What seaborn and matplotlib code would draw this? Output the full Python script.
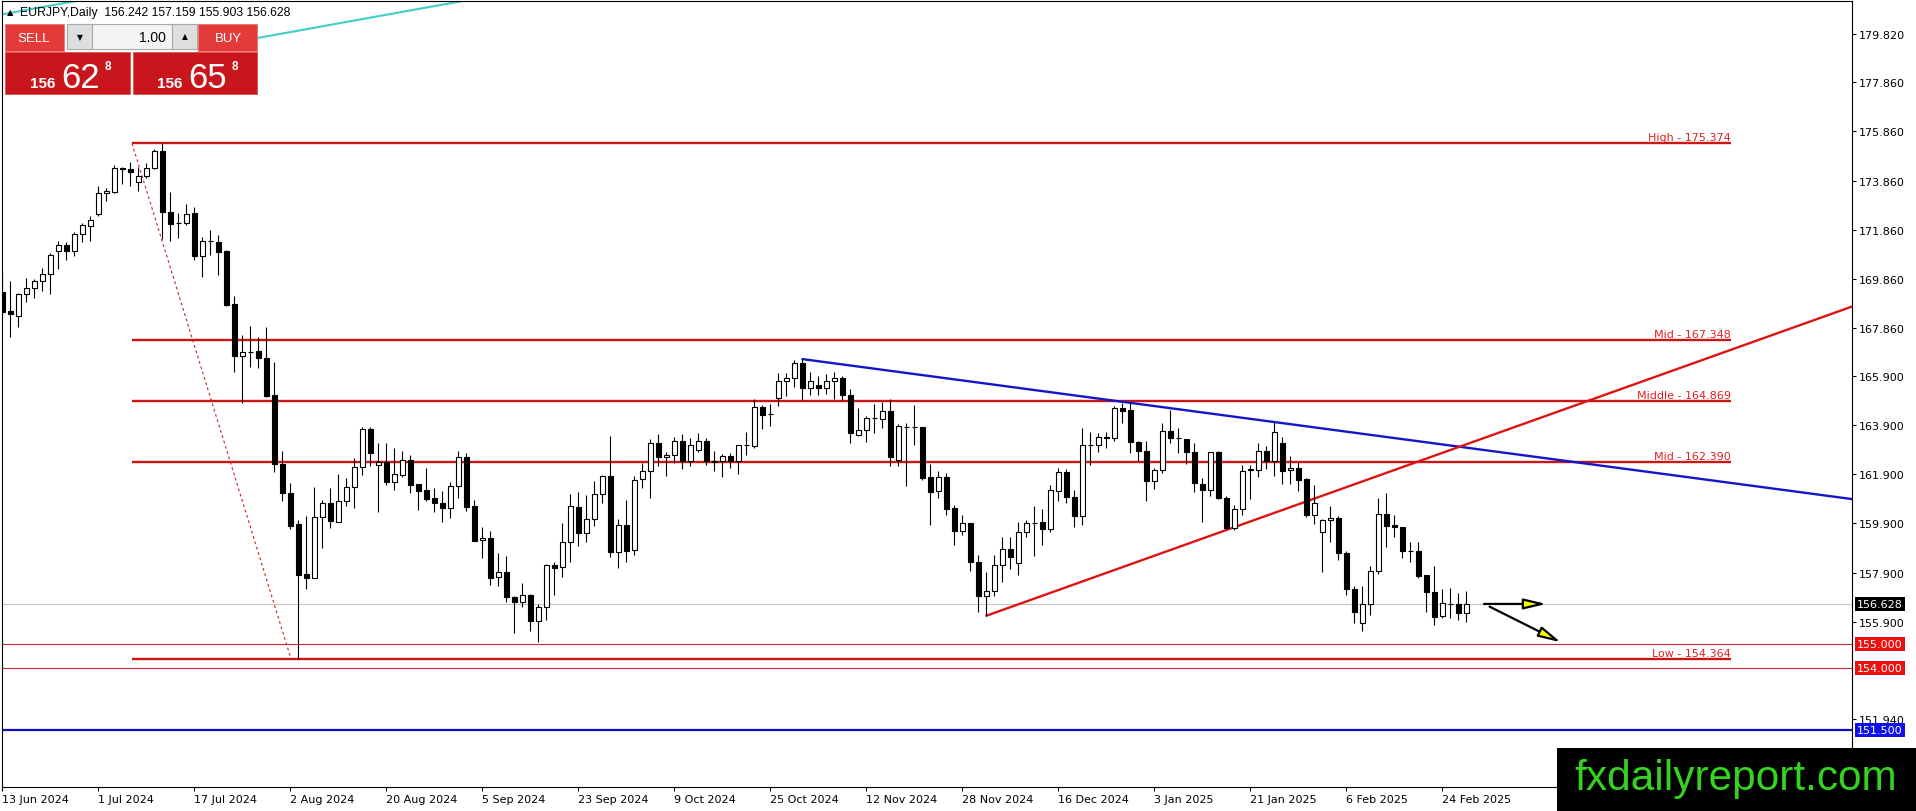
import matplotlib
matplotlib.use("Agg")
import numpy as np
import matplotlib.pyplot as plt
import matplotlib.transforms as mtransforms
from matplotlib.patches import Rectangle
import seaborn as sns

# EURJPY daily candles, 13 Jun 2024 .. 27 Feb 2025
opens = [169.34, 168.55, 168.36, 169.23, 169.47, 169.76, 170.06, 170.98, 171.25, 171.00,
         171.67, 172.02, 172.50, 173.34, 173.41, 174.36, 174.33, 173.79, 174.03, 174.36,
         175.05, 172.57, 172.13, 172.13, 172.52, 170.80, 171.40, 171.34, 170.99, 168.83,
         166.73, 166.88, 166.91, 166.62, 165.13, 162.32, 161.12, 159.86, 157.83, 157.69,
         160.15, 160.72, 159.97, 160.83, 161.37, 162.18, 163.74, 162.28, 162.39, 161.60,
         161.88, 162.50, 161.49, 161.25, 160.92, 160.73, 160.54, 161.41, 162.59, 160.60,
         159.22, 159.31, 157.70, 157.91, 156.89, 156.69, 156.99, 155.91, 156.48, 158.21,
         158.11, 159.13, 160.55, 159.50, 160.08, 161.10, 161.82, 158.72, 159.85, 158.83,
         161.71, 162.02, 163.16, 162.59, 162.69, 163.27, 162.45, 162.89, 163.27, 162.45,
         162.45, 162.63, 162.43, 163.08, 163.07, 164.63, 164.36, 165.01, 165.69, 165.82,
         166.42, 165.40, 165.54, 165.40, 165.69, 165.81, 165.14, 163.51, 163.72, 164.18,
         164.15, 164.49, 162.50, 163.84, 163.81, 163.81, 161.78, 161.21, 161.78, 160.51,
         159.60, 159.90, 158.31, 156.96, 157.14, 158.22, 158.86, 158.27, 159.54, 159.91,
         159.94, 159.67, 161.23, 161.98, 160.96, 160.19, 163.09, 163.09, 163.40, 163.36,
         164.60, 164.52, 163.20, 162.84, 161.64, 162.09, 163.65, 163.37, 163.34, 162.79,
         161.50, 161.27, 162.79, 160.92, 159.70, 160.49, 162.09, 162.09, 162.86, 162.45,
         163.17, 162.07, 162.16, 161.71, 160.24, 159.54, 160.04, 160.12, 158.68, 157.23,
         155.83, 156.60, 157.95, 160.28, 159.83, 159.74, 158.77, 158.76, 157.80, 157.09,
         156.12, 156.62, 156.60, 156.242]
highs = [170.10, 169.78, 169.28, 169.89, 169.85, 170.29, 170.91, 171.39, 171.34, 171.78,
         172.13, 172.40, 173.63, 173.54, 174.50, 174.43, 174.60, 174.40, 174.57, 175.14,
         175.374, 173.38, 172.54, 172.91, 172.77, 171.55, 171.85, 171.64, 171.03, 169.15,
         167.57, 167.95, 167.48, 167.88, 166.49, 162.86, 161.55, 160.04, 160.19, 161.37,
         160.85, 161.33, 161.91, 161.75, 162.55, 163.84, 163.84, 163.16, 163.16, 162.99,
         162.86, 162.69, 161.50, 162.14, 161.33, 161.22, 161.60, 162.84, 162.75, 160.85,
         159.74, 159.58, 158.70, 158.56, 156.96, 157.46, 157.03, 156.62, 158.25, 158.31,
         159.92, 161.10, 161.19, 161.06, 161.64, 161.89, 163.47, 160.08, 160.85, 161.84,
         162.36, 163.34, 163.54, 162.79, 163.40, 163.54, 163.36, 163.57, 163.36, 162.84,
         162.73, 162.77, 163.10, 163.61, 164.97, 164.72, 164.76, 166.01, 166.02, 166.55,
         166.59, 166.05, 165.89, 165.98, 166.05, 165.89, 165.37, 164.60, 164.29, 164.76,
         164.83, 164.97, 163.95, 163.99, 164.72, 163.82, 162.32, 162.05, 161.95, 160.66,
         160.26, 159.92, 158.61, 157.91, 158.61, 159.33, 159.33, 159.94, 160.04, 160.62,
         160.49, 161.48, 162.14, 162.11, 161.26, 163.77, 163.61, 163.57, 163.64, 164.69,
         164.80, 164.86, 163.27, 163.24, 162.16, 163.97, 164.52, 163.77, 163.35, 163.16,
         161.75, 162.80, 162.84, 161.03, 160.65, 162.28, 162.28, 163.16, 163.07, 164.04,
         163.43, 162.66, 162.39, 161.73, 161.46, 160.08, 160.62, 160.21, 158.79, 157.36,
         157.36, 158.15, 160.92, 161.12, 160.24, 159.75, 159.13, 159.13, 157.81, 158.15,
         157.23, 157.26, 157.05, 157.159]
lows = [168.22, 167.48, 167.91, 168.90, 169.08, 169.38, 169.24, 170.26, 170.63, 170.80,
        171.34, 171.41, 172.43, 173.04, 173.35, 173.72, 173.65, 173.45, 173.95, 174.33,
        171.48, 171.41, 171.51, 172.05, 170.64, 169.92, 170.83, 170.01, 168.77, 166.08,
        164.80, 166.26, 166.21, 165.03, 161.98, 160.82, 159.67, 154.364, 157.23, 157.66,
        158.91, 159.73, 159.96, 160.60, 160.53, 161.88, 162.25, 160.38, 161.46, 161.27,
        161.80, 161.14, 160.46, 160.83, 160.38, 159.97, 160.12, 160.93, 160.42, 159.18,
        158.50, 157.41, 157.36, 156.71, 155.42, 156.48, 155.53, 155.08, 155.98, 157.00,
        157.73, 158.34, 158.99, 159.16, 159.81, 160.73, 158.52, 158.07, 158.31, 158.61,
        161.33, 160.93, 162.25, 161.84, 162.36, 162.12, 162.25, 162.82, 162.29, 162.05,
        161.80, 162.14, 161.91, 162.70, 162.97, 163.74, 163.88, 164.67, 165.10, 165.44,
        164.94, 165.13, 165.13, 165.17, 164.97, 164.94, 163.16, 163.45, 163.20, 163.57,
        163.77, 162.25, 162.22, 161.44, 163.11, 161.68, 159.85, 160.93, 160.26, 159.03,
        159.43, 157.97, 156.31, 156.14, 156.96, 157.50, 158.04, 157.80, 159.33, 158.59,
        159.02, 159.56, 160.80, 160.73, 159.74, 159.84, 162.29, 162.79, 162.96, 163.27,
        163.97, 162.75, 162.45, 160.83, 161.30, 161.94, 163.16, 162.77, 162.32, 161.17,
        159.97, 161.03, 160.91, 159.69, 159.63, 160.24, 160.89, 161.78, 162.12, 161.84,
        161.50, 161.50, 161.23, 160.15, 159.88, 157.91, 159.13, 158.42, 156.98, 155.83,
        155.53, 156.18, 157.84, 158.95, 159.36, 158.48, 158.31, 157.66, 156.28, 155.76,
        156.03, 156.03, 155.98, 155.903]
closes = [168.52, 168.41, 169.24, 169.47, 169.76, 170.06, 170.83, 171.25, 171.00, 171.67,
          172.05, 172.27, 173.34, 173.43, 174.36, 174.32, 174.19, 174.03, 174.36, 175.05,
          172.57, 172.09, 172.12, 172.51, 170.80, 171.41, 171.39, 170.96, 168.79, 166.73,
          166.89, 166.87, 166.62, 165.10, 162.32, 161.12, 159.81, 157.80, 157.69, 160.15,
          160.72, 160.01, 160.83, 161.37, 162.18, 163.74, 162.75, 162.41, 161.60, 161.91,
          162.50, 161.48, 161.23, 160.89, 160.72, 160.54, 161.41, 162.59, 160.58, 159.20,
          159.31, 157.66, 157.91, 156.89, 156.69, 156.99, 155.91, 156.48, 158.21, 158.10,
          159.13, 160.60, 159.50, 160.08, 161.10, 161.82, 158.72, 159.85, 158.79, 161.68,
          162.02, 163.16, 162.59, 162.69, 163.27, 162.43, 163.09, 163.27, 162.43, 162.42,
          162.63, 162.45, 163.09, 163.10, 164.63, 164.33, 164.35, 165.69, 165.82, 166.42,
          165.40, 165.71, 165.40, 165.69, 165.81, 165.14, 163.57, 163.72, 164.19, 164.19,
          164.49, 162.59, 163.85, 163.83, 163.82, 161.75, 161.19, 161.78, 160.49, 159.60,
          159.90, 158.34, 156.96, 157.14, 158.22, 158.86, 158.52, 159.54, 159.90, 159.92,
          159.67, 161.27, 161.98, 160.96, 160.19, 163.09, 163.10, 163.40, 163.36, 164.59,
          164.49, 163.20, 162.84, 161.64, 162.09, 163.65, 163.36, 163.36, 162.79, 161.53,
          161.27, 162.79, 160.92, 159.70, 160.49, 162.05, 162.10, 162.86, 162.45, 163.61,
          162.05, 162.16, 161.67, 160.24, 160.72, 160.04, 160.12, 158.68, 157.23, 156.30,
          156.60, 157.95, 160.28, 159.81, 159.74, 158.76, 158.76, 157.77, 157.09, 156.07,
          156.64, 156.61, 156.24, 156.628]

date_ticks = [0, 12, 24, 36, 48, 60, 72, 84, 96, 108, 120, 132, 144, 156, 168, 180]
date_labels = ['13 Jun 2024', '1 Jul 2024', '17 Jul 2024', '2 Aug 2024', '20 Aug 2024',
               '5 Sep 2024', '23 Sep 2024', '9 Oct 2024', '25 Oct 2024', '12 Nov 2024',
               '28 Nov 2024', '16 Dec 2024', '3 Jan 2025', '21 Jan 2025', '6 Feb 2025',
               '24 Feb 2025']
price_ticks = [179.82, 177.86, 175.86, 173.86, 171.86, 169.86, 167.86, 165.90, 163.90,
               161.90, 159.90, 157.90, 155.90, 151.94]

# fibonacci levels (high / low of the Jul-Aug move)
fib_levels = [175.374, 167.348, 164.869, 162.390, 154.364]
fib_names = ['High', 'Mid', 'Middle', 'Mid', 'Low']
fib_span = [16.2, 216.1]
fib_diag_x = [16.2, 36.1]
fib_diag_y = [175.374, 154.364]

# trend lines (bar index, price)
blue_trend_x = [100, 231.2]
blue_trend_y = [166.59, 160.89]
red_trend_x = [123, 231.2]
red_trend_y = [156.14, 168.73]
teal1_x = [0, 10]
teal1_y = [180.63, 181.22]
teal2_x = [25, 58]
teal2_y = [179.26, 181.20]

# horizontal levels
support_levels = [155.0, 154.0]
blue_level = 151.5
last_price = 156.628

# arrows: (start, tip)
arrow_flat = [(185.2, 156.62), (193.0, 156.62)]
arrow_down = [(185.9, 156.51), (194.8, 155.06)]

W, H = 1916, 812
sns.set_theme(style="white")
plt.rcParams['font.family'] = ['DejaVu Sans']

fig = plt.figure(figsize=(W / 100, H / 100), dpi=100)
fig.patch.set_facecolor('white')
ax = fig.add_axes([2 / W, 1 - 788 / H, 1850 / W, 786 / H])
ax.set_facecolor('white')

o = np.array(opens)
c = np.array(closes)
idx = np.arange(len(o))
up = c >= o

# teal channel lines behind everything
ax.plot(teal1_x, teal1_y, color='#3fcfc4', lw=1.5, zorder=1)
ax.plot(teal2_x, teal2_y, color='#3fcfc4', lw=1.5, zorder=1)

# level lines
ax.axhline(last_price, color='#c4c4c4', lw=0.8, zorder=1)
for lv in support_levels:
    ax.axhline(lv, color='#c82828', lw=0.8, zorder=1)
ax.axhline(blue_level, color='#0a0ad0', lw=1.6, zorder=1)

ax.hlines(fib_levels, fib_span[0], fib_span[1], color='#cc1515', lw=1.7, zorder=2)
ax.plot(fib_diag_x, fib_diag_y, color='#cc2020', lw=0.8, ls=(0, (2.5, 2.5)), zorder=2)
for lv, nm in zip(fib_levels, fib_names):
    ax.text(fib_span[1], lv + 0.06, f'{nm} - {lv:.3f}', ha='right', va='bottom',
            fontsize=8, color='#dd2020', zorder=4)

sns.lineplot(x=blue_trend_x, y=blue_trend_y, ax=ax, color='#1414c8', lw=1.7, zorder=2)
sns.lineplot(x=red_trend_x, y=red_trend_y, ax=ax, color='#dd1414', lw=1.7, zorder=2)

# candles: wicks then bodies
ax.vlines(idx, lows, highs, color='black', lw=0.8, zorder=3)
body_h = np.maximum(np.abs(c - o), 0.012)
ax.bar(idx, body_h, bottom=np.minimum(o, c), width=0.7,
       color=np.where(up, 'white', 'black'), edgecolor='black', linewidth=0.8, zorder=4)

# arrows
for (p0, p1) in [arrow_flat, arrow_down]:
    ax.annotate('', xy=p1, xytext=p0, zorder=5,
                arrowprops=dict(arrowstyle='-|>,head_length=1.35,head_width=0.32',
                                fc='#ffff00', ec='black', lw=1.6, mutation_scale=10,
                                shrinkA=0, shrinkB=0))

ax.set_xlim(-0.05, 231.2)
ax.set_ylim(149.166, 181.172)

ax.set_xticks(date_ticks)
ax.set_xticklabels(date_labels)
for lbl in ax.get_xticklabels():
    lbl.set_ha('left')
ax.set_yticks(price_ticks)
ax.set_yticklabels([f'{p:.3f}' for p in price_ticks])
ax.yaxis.tick_right()
ax.tick_params(axis='y', right=True, left=False, length=3, width=0.8, pad=2,
               labelsize=8, colors='black', direction='out')
ax.tick_params(axis='x', bottom=True, length=3, width=0.8, pad=2,
               labelsize=8, colors='black', direction='out')
for sp in ax.spines.values():
    sp.set_color('black')
    sp.set_linewidth(0.8)
ax.grid(False)

# price tags on the scale
tag_tr = mtransforms.blended_transform_factory(ax.transAxes, ax.transData)
tag_tr = tag_tr + mtransforms.ScaledTranslation(5 / 100, 0, fig.dpi_scale_trans)
for val, col in [(last_price, 'black'), (155.0, '#ee1010'), (154.0, '#ee1010'),
                 (blue_level, '#1010ee')]:
    ax.text(1.0, val, f'{val:.3f}', transform=tag_tr, ha='left', va='center',
            fontsize=8, color='white', zorder=6, clip_on=False,
            bbox=dict(boxstyle='square,pad=0.18', fc=col, ec='none'))


def fig_rect(x0, y0, x1, y1, **kw):
    fig.patches.append(Rectangle((x0 / W, 1 - y1 / H), (x1 - x0) / W, (y1 - y0) / H,
                                 transform=fig.transFigure, **kw))


def fig_text(x, y, s, **kw):
    fig.text(x / W, 1 - y / H, s, **kw)


# one-click trading panel
panel_font = ['Liberation Sans', 'DejaVu Sans']
fig_rect(5, 25, 64, 52, fc='#e33a3a', ec='#f07070', lw=0.6)
fig_rect(198, 25, 257, 52, fc='#e33a3a', ec='#f07070', lw=0.6)
fig_rect(67, 25, 197, 50, fc='#f4f4f4', ec='#a8a8a8', lw=0.8)
fig_rect(67, 25, 92, 50, fc='#dedede', ec='#a8a8a8', lw=0.8)
fig_rect(172, 25, 197, 50, fc='#dedede', ec='#a8a8a8', lw=0.8)
fig_rect(5, 53, 130, 95, fc='#c8161c', ec='#e05050', lw=0.6)
fig_rect(133, 53, 257, 95, fc='#c8161c', ec='#e05050', lw=0.6)
fig_text(34, 39, 'SELL', fontsize=9.5, color='white', ha='center', va='center', family=panel_font)
fig_text(228, 39, 'BUY', fontsize=9.5, color='white', ha='center', va='center', family=panel_font)
fig_text(79.5, 38, '\u25bc', fontsize=5.5, color='black', ha='center', va='center')
fig_text(184.5, 37, '\u25b2', fontsize=5.5, color='black', ha='center', va='center')
fig_text(166, 38, '1.00', fontsize=10, color='black', ha='right', va='center', family=panel_font)
for bx, big in [(30, '62'), (157, '65')]:
    fig_text(bx, 88, '156', fontsize=11, color='white', fontweight='bold', ha='left',
             va='baseline', family=panel_font)
    fig_text(bx + 31, 88, big, fontsize=25, color='white', ha='left', va='baseline',
             family=panel_font)
    fig_text(bx + 75, 61, '8', fontsize=8.5, color='white', fontweight='bold', ha='left',
             va='top', family=panel_font)

fig_text(7, 13, '\u25b2', fontsize=6, color='black', ha='left', va='center')
fig_text(20, 13, 'EURJPY,Daily  156.242 157.159 155.903 156.628', fontsize=8.8,
         color='black', ha='left', va='center', family=panel_font)

# watermark
fig_rect(1557, 749, 1916, 812, fc='black', ec='none', zorder=5)
fig.text(1736 / W, 1 - 790 / H, 'fxdailyreport.com', fontsize=30.5,
         color='#35d21f', ha='center', va='baseline', zorder=6,
         family=['Liberation Sans', 'DejaVu Sans'])

fig.savefig('out.png', dpi=100)
